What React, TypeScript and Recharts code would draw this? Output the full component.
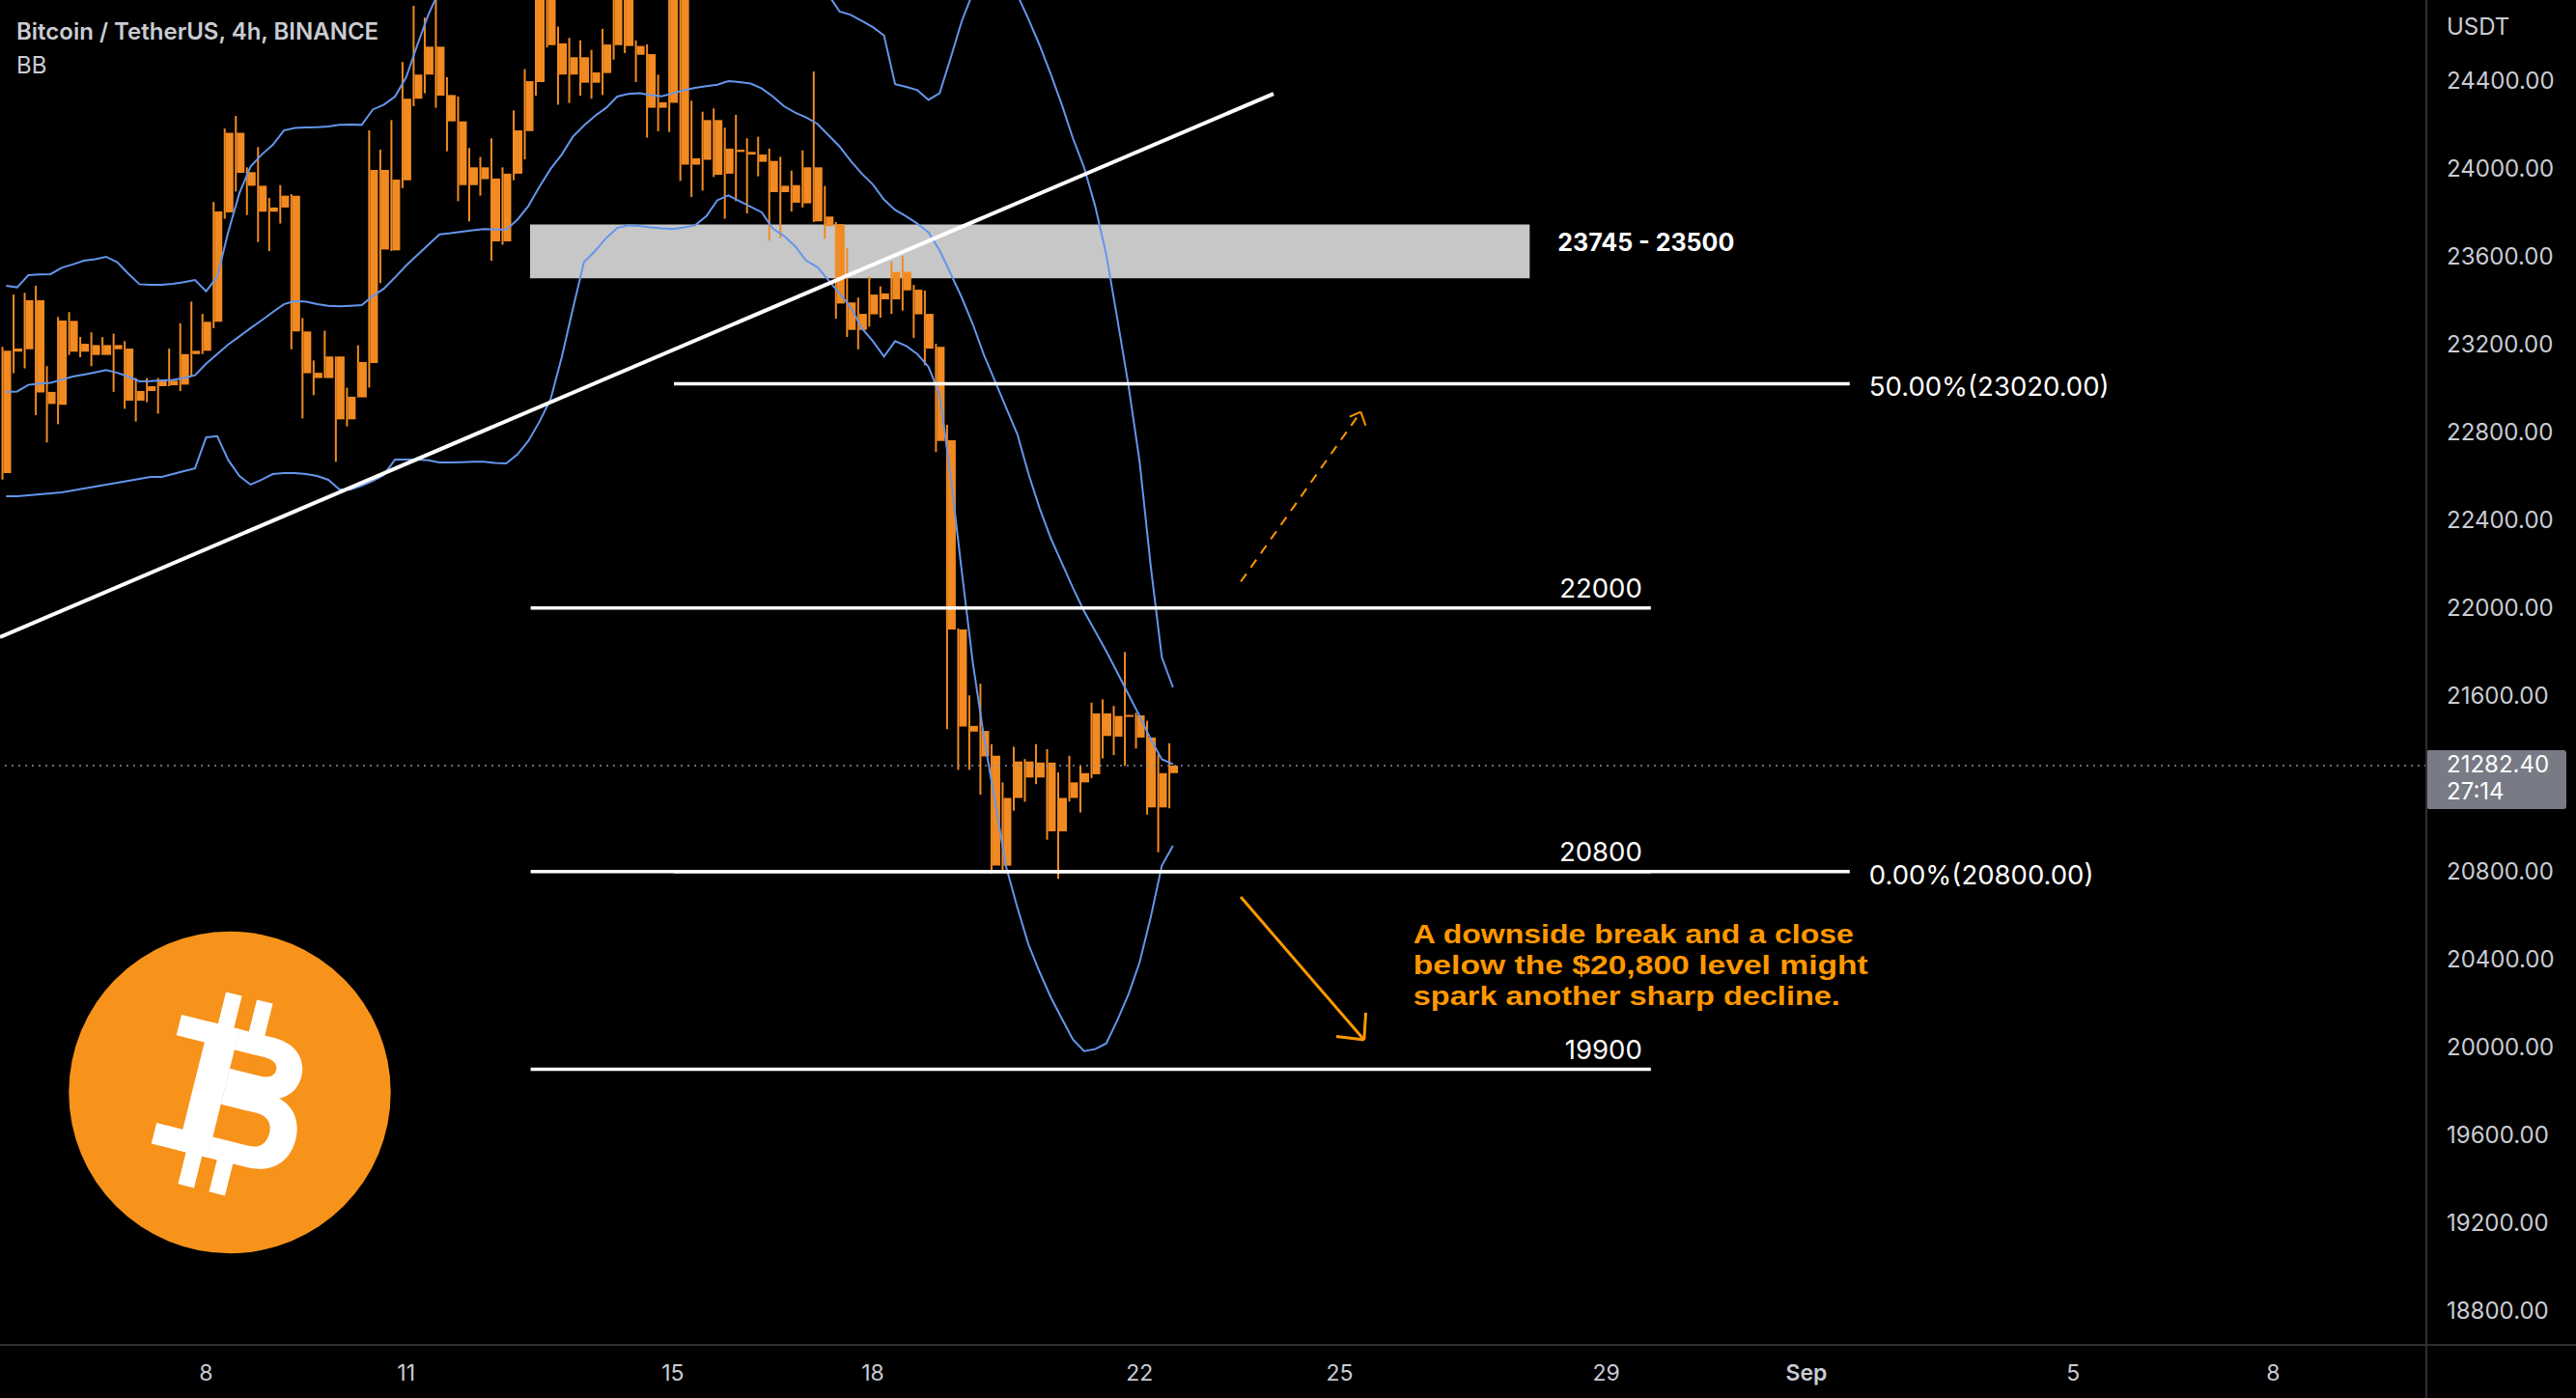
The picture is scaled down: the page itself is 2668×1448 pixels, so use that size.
import React from 'react';
import { ComposedChart, XAxis, YAxis, Bar, Line, ReferenceLine, ReferenceArea } from 'recharts';

const W = 2668;
const H = 1448;
const FONT = 'Inter, "Noto Sans", sans-serif';
const NOTE_FONT = '"Liberation Sans", Arial, sans-serif';
const CANDLE = '#F28A22';
const BAND = '#6496EC';
const ORANGE = '#FF9800';
const AXIS = '#2E2F34';
const TEXT = '#C9CCD3';

// x = index of the 4h candle counted from Aug 5 00:00
const X_MIN = -0.547;
const X_MAX = 217.785;
const Y_MIN = 18646;
const Y_MAX = 24766.4;

const opens = [
  22613, 23166, 23177, 23400, 22983, 22924, 23306, 23166, 23196, 23151,
  23196, 23180, 22943, 22987, 23009, 23034, 23016, 23155, 23170, 23302,
  23800, 24162, 23983, 23921, 23803, 23822, 23876, 23258, 23070, 23046,
  23144, 22858, 22958, 23114, 23993, 23627, 23946, 24317, 24427, 24554,
  24334, 24214, 23924, 24005, 23954, 23668, 23976, 24170, 24393, 24860,
  24569, 24427, 24506, 24390, 24434, 24561, 24880, 24557, 24520, 24276,
  24298, 24950, 24017, 24039, 24220, 23976, 24085, 24075, 24063, 24034,
  23892, 23924, 23841, 24005, 23781, 23746, 23390, 23265, 23336, 23431,
  23404, 23529, 23448, 23338, 23188, 22763, 21902, 21463, 21440, 21327,
  20827, 21135, 21301, 21228, 21296, 20983, 21135, 21206, 21243, 21520,
  21414, 21504, 21511, 21410, 21092, 21248,
];
const highs = [
  23188, 23426, 23434, 23466, 23100, 23324, 23346, 23233, 23254, 23232,
  23248, 23214, 23046, 23046, 23046, 23180, 23295, 23394, 23338, 23847,
  24181, 24239, 24005, 24097, 23866, 23924, 23883, 23319, 23126, 23261,
  23144, 23002, 23195, 24173, 24085, 24220, 24484, 24740, 24686, 24900,
  24415, 24327, 24093, 24052, 24137, 24005, 24264, 24452, 24950, 24920,
  24645, 24594, 24583, 24539, 24635, 25047, 24960, 24583, 24564, 24427,
  25211, 25050, 24308, 24258, 24273, 24185, 24244, 24137, 24144, 24090,
  24053, 23990, 24082, 24441, 23920, 23756, 23636, 23412, 23507, 23463,
  23576, 23602, 23470, 23444, 23202, 22833, 21906, 21602, 21655, 21380,
  21206, 21368, 21312, 21380, 21357, 21251, 21327, 21281, 21569, 21584,
  21554, 21799, 21523, 21486, 21334, 21384,
];
const lows = [
  22584, 23068, 23090, 22877, 22753, 22836, 23151, 23141, 23100, 23151,
  22983, 22906, 22848, 22936, 22884, 23009, 22987, 23053, 23155, 23273,
  23771, 23895, 23788, 23665, 23624, 23749, 23177, 22862, 22968, 23046,
  22665, 22826, 22958, 23002, 23478, 23624, 23910, 24283, 24342, 24276,
  24078, 23851, 23759, 23876, 23580, 23653, 23946, 24041, 24331, 24550,
  24290, 24298, 24331, 24317, 24334, 24495, 24525, 24393, 24140, 24169,
  24166, 23943, 23870, 23899, 23961, 23771, 23851, 23795, 23964, 23671,
  23683, 23804, 23822, 23756, 23680, 23316, 23233, 23177, 23280, 23321,
  23338, 23353, 23229, 23104, 22709, 21448, 21263, 21263, 21150, 20790,
  20797, 21077, 21118, 21198, 20945, 20767, 21119, 21069, 21225, 21315,
  21330, 21281, 21360, 21059, 20888, 21088,
];
const closes = [
  23170, 23180, 23400, 22980, 22928, 23308, 23166, 23202, 23151, 23196,
  23177, 22943, 22987, 23009, 23034, 23013, 23155, 23170, 23302, 23804,
  24162, 23980, 23921, 23803, 23822, 23876, 23258, 23068, 23046, 23144,
  22858, 22961, 23119, 23993, 23631, 23949, 24317, 24427, 24554, 24331,
  24214, 23924, 24005, 23951, 23668, 23976, 24173, 24397, 24860, 24561,
  24427, 24506, 24390, 24437, 24564, 24880, 24557, 24517, 24276, 24301,
  24950, 24017, 24046, 24220, 23971, 24090, 24075, 24063, 24030, 23892,
  23921, 23844, 24005, 23759, 23737, 23385, 23265, 23338, 23426, 23404,
  23529, 23445, 23336, 23180, 22760, 21902, 21460, 21437, 21324, 20827,
  21135, 21301, 21228, 21296, 20983, 21135, 21206, 21248, 21520, 21417,
  21508, 21511, 21410, 21092, 21248, 21282.4,
];

const bbUpper = [
  23466, 23459, 23514, 23517, 23519, 23548, 23563, 23580, 23587, 23598,
  23573, 23521, 23473, 23470, 23470, 23475, 23482, 23492, 23441, 23507,
  23712, 23888, 24008, 24063, 24107, 24173, 24184, 24186, 24188, 24191,
  24198, 24200, 24198, 24268, 24290, 24327, 24415, 24561, 24700, 24810,
  24880, 24870, 24850, 24830, 24800, 24790, 24820, 24880, 24960, 25020,
  25050, 24980, 24900, 24880, 24890, 24920, 24930, 24940, 24950, 24950,
  24960, 24980, 24990, 24970, 24930, 24920, 24930, 24940, 24930, 24920,
  24880, 24860, 24860, 24850, 24790, 24714, 24699, 24671, 24643, 24605,
  24383, 24371, 24356, 24312, 24342, 24503, 24671, 24800, 24950, 25050,
  25000, 24790, 24679, 24561, 24430, 24290, 24137, 24005, 23829, 23608,
  23314, 23012, 22666, 22190, 21775, 21638,
];
const bbBasis = [
  22983, 22985, 23015, 23021, 23024, 23038, 23053, 23062, 23072, 23082,
  23070, 23053, 23031, 23032, 23035, 23038, 23046, 23059, 23111, 23155,
  23199, 23236, 23273, 23309, 23346, 23382, 23397, 23393, 23382, 23375,
  23372, 23375, 23378, 23419, 23453, 23504, 23558, 23605, 23653, 23700,
  23705, 23712, 23718, 23724, 23722, 23722, 23766, 23829, 23917, 23998,
  24063, 24144, 24195, 24239, 24276, 24327, 24339, 24342, 24334, 24328,
  24342, 24356, 24367, 24374, 24381, 24397, 24393, 24386, 24364, 24327,
  24283, 24254, 24232, 24203, 24151, 24100, 24034, 23976, 23927, 23858,
  23811, 23782, 23749, 23709, 23627, 23521, 23412, 23290, 23150, 23030,
  22910, 22790, 22610, 22454, 22318, 22204, 22091, 21985, 21894, 21803,
  21705, 21606, 21508, 21402, 21311, 21289,
];
const bbLower = [
  22508, 22508, 22512, 22517, 22521, 22526, 22534, 22543, 22552, 22561,
  22570, 22578, 22587, 22596, 22596, 22609, 22622, 22635, 22776, 22781,
  22672, 22600, 22561, 22583, 22609, 22613, 22613, 22609, 22600, 22583,
  22539, 22539, 22556, 22578, 22605, 22675, 22675, 22675, 22672, 22662,
  22662, 22663, 22665, 22665, 22660, 22657, 22698, 22760, 22848, 22950,
  23141, 23360, 23573, 23624, 23683, 23729, 23741, 23738, 23732, 23727,
  23724, 23732, 23741, 23782, 23855, 23877, 23851, 23826, 23800, 23726,
  23693, 23646, 23580, 23551, 23492, 23431, 23368, 23273, 23214, 23144,
  23214, 23192, 23155, 23097, 22972, 22600, 22165, 21747, 21410, 21115,
  20820, 20636, 20468, 20343, 20229, 20131, 20036, 19983, 19992, 20018,
  20124, 20241, 20387, 20592, 20827, 20918,
];

const xTickIdx = [18, 36, 60, 78, 102, 120, 144, 162, 186, 204];
const xTickLabels = ['8', '11', '15', '18', '22', '25', '29', 'Sep', '5', '8'];
// 21200 is hidden behind the last-price tag, as in the reference
const yTicks = [18800, 19200, 19600, 20000, 20400, 20800, 21600, 22000, 22400, 22800, 23200, 23600, 24000, 24400];

// drawings (candle index, price)
const zone = { x1: 47.15, x2: 137.1, low: 23500, high: 23745, label: '23745 - 23500' };
const levels = [
  { price: 22000, from: 47.2, to: 148.0, label: '22000' },
  { price: 20800, from: 47.2, to: 148.0, label: '20800' },
  { price: 19900, from: 47.2, to: 148.0, label: '19900' },
];
const fibFrom = 60.1;
const fibTo = 165.9;
const fibLevels = [
  { price: 23020, label: '50.00%(23020.00)' },
  { price: 20800, label: '0.00%(20800.00)' },
];
const trendLine = [{ x: -0.547, y: 21867 }, { x: 114.05, y: 24340 }];
const upArrow = { from: { x: 111.1, y: 22119 }, to: { x: 121.9, y: 22892 }, arms: [{ x: 120.9, y: 22870 }, { x: 122.34, y: 22830 }] };
const downArrow = { from: { x: 111.1, y: 20685 }, to: { x: 122.2, y: 20034 }, arms: [{ x: 119.7, y: 20050 }, { x: 122.35, y: 20158 }] };
const noteLines = ['A downside break and a close', 'below the $20,800 level might', 'spark another sharp decline.'];
const noteWidths = [456, 471, 442];
const lastPrice = 21282.4;
const countdown = '27:14';

const rows = opens.map((o, i) => ({
  i,
  open: o,
  high: highs[i],
  low: lows[i],
  close: closes[i],
  upper: bbUpper[i],
  basis: bbBasis[i],
  lower: bbLower[i],
}));

const XTick = (props: any) => {
  const { x, y, payload } = props;
  const k = xTickIdx.indexOf(payload.value);
  const label = k >= 0 ? xTickLabels[k] : '';
  return (
    <text x={x} y={y + 27} textAnchor="middle" dominantBaseline="central" fill={TEXT} fontFamily={FONT} fontSize={23} fontWeight={label === 'Sep' ? 600 : 400}>
      {label}
    </text>
  );
};

const YTick = (props: any) => {
  const { x, y, payload } = props;
  return (
    <text x={x + 19} y={y} dominantBaseline="central" fill={TEXT} fontFamily={FONT} fontSize={24}>
      {Number(payload.value).toFixed(2)}
    </text>
  );
};

const rightText = (text: string) => (props: any) => {
  const vb = props.viewBox || {};
  return (
    <text x={vb.x + vb.width + 20} y={vb.y + 3} dominantBaseline="central" fill="#FFFFFF" fontFamily={FONT} fontSize={27.5}>
      {text}
    </text>
  );
};

const aboveRightText = (text: string) => (props: any) => {
  const vb = props.viewBox || {};
  return (
    <text x={vb.x + vb.width - 9} y={vb.y - 21} textAnchor="end" dominantBaseline="central" fill="#FFFFFF" fontFamily={FONT} fontSize={27.5}>
      {text}
    </text>
  );
};

const zoneLabel = (props: any) => {
  const vb = props.viewBox || {};
  return (
    <text x={vb.x + vb.width + 29} y={vb.y + vb.height / 2 - 9} dominantBaseline="central" fill="#FFFFFF" fontFamily={FONT} fontWeight={700} fontSize={25}>
      {zone.label}
    </text>
  );
};

const noteLabel = (props: any) => {
  const vb = props.viewBox || {};
  const x0 = vb.x + vb.width + 51;
  return (
    <g>
      {noteLines.map((t, k) => (
        <text
          key={k}
          x={x0}
          y={vb.y + 38 + k * 32}
          dominantBaseline="central"
          fill={ORANGE}
          fontFamily={NOTE_FONT}
          fontWeight={700}
          fontSize={28.5}
          textLength={noteWidths[k]}
          lengthAdjust="spacingAndGlyphs"
        >
          {t}
        </text>
      ))}
    </g>
  );
};

const priceTag = (props: any) => {
  const vb = props.viewBox || {};
  const x0 = vb.x + vb.width;
  const y0 = vb.y;
  return (
    <g>
      <rect x={x0} y={y0 - 16} width={145} height={61} rx={3} fill="#787B86" />
      <text x={x0 + 21} y={y0 - 1} dominantBaseline="central" fill="#FFFFFF" fontFamily={FONT} fontSize={24}>
        {lastPrice.toFixed(2)}
      </text>
      <text x={x0 + 21} y={y0 + 27} dominantBaseline="central" fill="#FFFFFF" fontFamily={FONT} fontSize={24}>
        {countdown}
      </text>
    </g>
  );
};

const BitcoinLogo = () => (
  <g>
    <circle cx={238} cy={1131.5} r={166.7} fill="#F7931A" />
    <g transform="translate(238 1131.5) rotate(14)" fill="#FFFFFF">
      <rect x={-38} y={-66} width={32} height={137} />
      <rect x={-68} y={-66} width={62} height={22} />
      <rect x={-66} y={49} width={60} height={22} />
      <path fillRule="evenodd" d="M -6 -66 H 30 C 55 -66 68 -52 68 -34 C 68 -16 55 -2 30 -2 H -6 Z M -6 -44 H 26 C 36 -44 41 -40 41 -34 C 41 -28 36 -24 26 -24 H -6 Z" />
      <path fillRule="evenodd" d="M -6 -8 H 38 C 64 -8 78 8 78 31 C 78 55 62 71 36 71 H -6 Z M -6 14 H 32 C 44 14 50 21 50 31 C 50 42 44 49 32 49 H -6 Z" />
      <rect x={-29} y={-100} width={17} height={40} />
      <rect x={4} y={-100} width={17} height={40} />
      <rect x={-29} y={65} width={17} height={40} />
      <rect x={4} y={65} width={17} height={40} />
    </g>
  </g>
);

export default function App() {
  return (
    <div style={{ position: 'fixed', left: 0, top: 0, width: W, height: H, background: '#000000', overflow: 'hidden' }}>
      <ComposedChart width={W} height={H} data={rows} margin={{ top: 0, right: 0, bottom: 0, left: 0 }}>
        <XAxis
          type="number"
          dataKey="i"
          domain={[X_MIN, X_MAX]}
          allowDataOverflow
          ticks={xTickIdx}
          interval={0}
          tick={<XTick />}
          tickLine={false}
          tickSize={0}
          axisLine={{ stroke: AXIS, strokeWidth: 2 }}
          height={55}
        />
        <YAxis
          yAxisId="p"
          orientation="right"
          type="number"
          domain={[Y_MIN, Y_MAX]}
          allowDataOverflow
          ticks={yTicks}
          interval={0}
          tick={<YTick />}
          tickLine={false}
          tickSize={0}
          axisLine={{ stroke: AXIS, strokeWidth: 2 }}
          width={155}
        />
        <YAxis yAxisId="b" hide type="number" domain={[Y_MIN, Y_MAX]} allowDataOverflow />

        <Line yAxisId="p" dataKey="upper" stroke={BAND} strokeWidth={2} dot={false} activeDot={false} isAnimationActive={false} />
        <Line yAxisId="p" dataKey="basis" stroke={BAND} strokeWidth={2} dot={false} activeDot={false} isAnimationActive={false} />
        <Line yAxisId="p" dataKey="lower" stroke={BAND} strokeWidth={2} dot={false} activeDot={false} isAnimationActive={false} />

        <ReferenceArea
          yAxisId="p"
          x1={zone.x1}
          x2={zone.x2}
          y1={zone.low}
          y2={zone.high}
          fill="#FFFFFF"
          fillOpacity={0.78}
          stroke="none"
          label={zoneLabel}
        />

        <Bar yAxisId="p" dataKey={(d: any) => [d.low, d.high]} barSize={2} fill={CANDLE} activeBar={false} isAnimationActive={false} />
        <Bar yAxisId="b" dataKey={(d: any) => [Math.min(d.open, d.close), Math.max(d.open, d.close)]} barSize={8} minPointSize={2} fill={CANDLE} activeBar={false} isAnimationActive={false} />

        <ReferenceLine yAxisId="p" segment={trendLine} stroke="#FFFFFF" strokeWidth={4} ifOverflow="hidden" />

        {levels.map((lv) => (
          <ReferenceLine
            key={'lv' + lv.label}
            yAxisId="p"
            segment={[{ x: lv.from, y: lv.price }, { x: lv.to, y: lv.price }]}
            stroke="#FFFFFF"
            strokeWidth={3.5}
            ifOverflow="hidden"
            label={aboveRightText(lv.label)}
          />
        ))}
        {fibLevels.map((lv) => (
          <ReferenceLine
            key={'fib' + lv.label}
            yAxisId="p"
            segment={[{ x: fibFrom, y: lv.price }, { x: fibTo, y: lv.price }]}
            stroke="#FFFFFF"
            strokeWidth={3.5}
            ifOverflow="hidden"
            label={rightText(lv.label)}
          />
        ))}

        <ReferenceLine yAxisId="p" segment={[upArrow.from, upArrow.to]} stroke={ORANGE} strokeWidth={2} strokeDasharray="10 8" ifOverflow="hidden" />
        {upArrow.arms.map((a, k) => (
          <ReferenceLine key={'ua' + k} yAxisId="p" segment={[upArrow.to, a]} stroke={ORANGE} strokeWidth={2} ifOverflow="hidden" />
        ))}
        <ReferenceLine yAxisId="p" segment={[downArrow.from, downArrow.to]} stroke={ORANGE} strokeWidth={3} ifOverflow="hidden" label={noteLabel} />
        {downArrow.arms.map((a, k) => (
          <ReferenceLine key={'da' + k} yAxisId="p" segment={[downArrow.to, a]} stroke={ORANGE} strokeWidth={3} ifOverflow="hidden" />
        ))}

        <ReferenceLine yAxisId="p" y={lastPrice} stroke="#8A8D96" strokeWidth={1.5} strokeDasharray="2 5" label={priceTag} />
      </ComposedChart>

      <svg width={W} height={H} style={{ position: 'absolute', left: 0, top: 0, pointerEvents: 'none' }}>
        <rect x={2512} y={1393} width={2} height={55} fill={AXIS} />
        <rect x={2513} y={1392} width={155} height={2} fill={AXIS} />
        <text x={17} y={32} dominantBaseline="central" fill={TEXT} fontFamily={FONT} fontWeight={600} fontSize={24}>
          Bitcoin / TetherUS, 4h, BINANCE
        </text>
        <text x={17} y={67} dominantBaseline="central" fill={TEXT} fontFamily={FONT} fontSize={24}>
          BB
        </text>
        <text x={2534} y={27} dominantBaseline="central" fill={TEXT} fontFamily={FONT} fontSize={24}>
          USDT
        </text>
        <BitcoinLogo />
      </svg>
    </div>
  );
}
